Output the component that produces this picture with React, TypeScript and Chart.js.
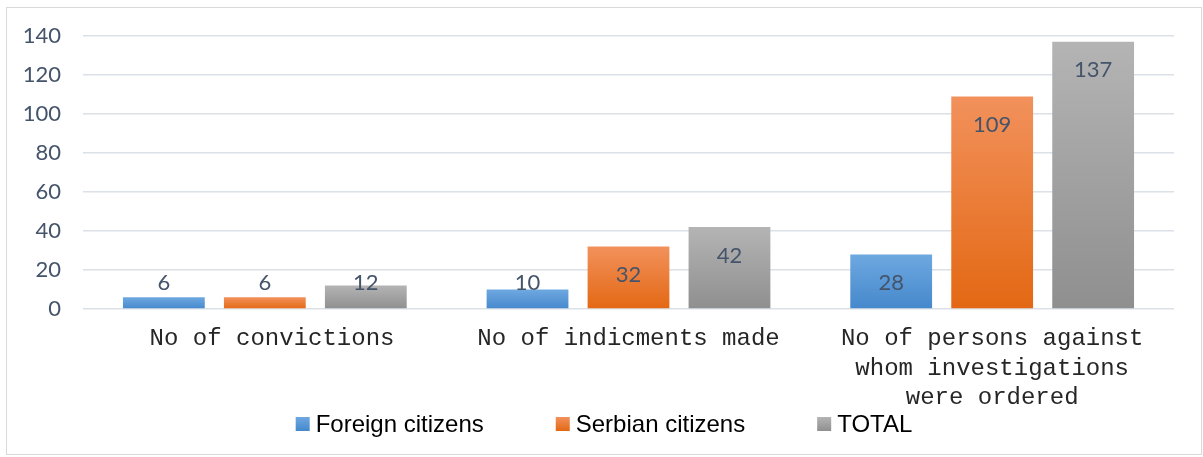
import React, { useEffect, useRef } from "react";
import { Chart, registerables } from "chart.js";

Chart.register(...registerables);

// ---- data ----
const categories: string[][] = [
  [" No of convictions"],
  ["No of indicments made"],
  ["No of persons against", "whom investigations", "were ordered"],
];
const seriesNames = ["Foreign citizens", "Serbian citizens", "TOTAL"];
const foreignCitizens = [6, 10, 28];
const serbianCitizens = [6, 32, 109];
const totalValues = [12, 42, 137];
const yMin = 0;
const yMax = 140;
const yStep = 20;

// ---- styles ----
const gradientStops: [string, string][] = [
  ["#6EA8E0", "#4588CC"],
  ["#F2915C", "#E36813"],
  ["#B4B4B4", "#8F8F8F"],
];
const labelColor = "#44546A";
const gridColor = "#DCE1E8";

function makeBg(idx: number) {
  return (ctx: any) => {
    const chart = ctx.chart;
    const area = chart.chartArea;
    const [c0, c1] = gradientStops[idx];
    if (!area || ctx.type !== "data") return c1;
    const ys = chart.scales.y;
    const top = ys.getPixelForValue(ctx.raw);
    const bot = ys.getPixelForValue(0);
    if (!isFinite(top) || !isFinite(bot) || top === bot) return c1;
    const g = chart.ctx.createLinearGradient(0, top, 0, bot);
    g.addColorStop(0, c0);
    g.addColorStop(1, c1);
    return g;
  };
}

const valueLabelPlugin = {
  id: "valueLabels",
  afterDatasetsDraw(chart: any) {
    const ctx = chart.ctx;
    ctx.save();
    ctx.font = "22px Lato";
    ctx.fillStyle = labelColor;
    ctx.textAlign = "center";
    ctx.textBaseline = "middle";
    chart.data.datasets.forEach((ds: any, di: number) => {
      const meta = chart.getDatasetMeta(di);
      meta.data.forEach((el: any, i: number) => {
        const y = Math.min(el.y + 28.5, el.base - 25);
        ctx.fillText(String(ds.data[i]), el.x, y);
      });
    });
    ctx.restore();
  },
};

const legendPlugin = {
  id: "customLegend",
  afterDraw(chart: any) {
    const ctx = chart.ctx;
    const box = 14;
    const textGap = 6;
    const itemGap = 72;
    ctx.save();
    ctx.font = "24px 'Liberation Sans'";
    const widths = seriesNames.map((n) => box + textGap + ctx.measureText(n).width);
    const total = widths.reduce((a, b) => a + b, 0) + itemGap * (widths.length - 1);
    let x = chart.width / 2 - total / 2;
    const cy = chart.height - 30;
    seriesNames.forEach((name, i) => {
      const [c0, c1] = gradientStops[i];
      const g = ctx.createLinearGradient(0, cy - box / 2, 0, cy + box / 2);
      g.addColorStop(0, c0);
      g.addColorStop(1, c1);
      ctx.fillStyle = g;
      ctx.fillRect(x, cy - box / 2, box, box);
      ctx.fillStyle = "#000000";
      ctx.textAlign = "left";
      ctx.textBaseline = "middle";
      ctx.fillText(name, x + box + textGap, cy + 1);
      x += widths[i] + itemGap;
    });
    ctx.restore();
  },
};

export default function App() {
  const canvasRef = useRef<HTMLCanvasElement | null>(null);

  useEffect(() => {
    document.body.style.margin = "0";
    const canvas = canvasRef.current;
    if (!canvas) return;
    const chart = new Chart(canvas, {
      type: "bar",
      data: {
        labels: categories,
        datasets: [
          { label: seriesNames[0], data: foreignCitizens, backgroundColor: makeBg(0) },
          { label: seriesNames[1], data: serbianCitizens, backgroundColor: makeBg(1) },
          { label: seriesNames[2], data: totalValues, backgroundColor: makeBg(2) },
        ],
      },
      options: {
        responsive: false,
        animation: false,
        devicePixelRatio: 1,
        layout: { padding: { left: 0, right: 27, top: 28, bottom: 0 } },
        datasets: {
          bar: { categoryPercentage: 0.833, barPercentage: 0.81 },
        },
        plugins: {
          legend: { display: false },
          tooltip: { enabled: false },
        },
        scales: {
          x: {
            grid: { display: false, drawTicks: false },
            border: { display: false },
            ticks: {
              autoSkip: false,
              maxRotation: 0,
              minRotation: 0,
              padding: 15,
              color: "#262626",
              font: { family: "'Liberation Mono'", size: 24, lineHeight: 29.5 / 24 },
            },
            afterFit(scale: any) {
              scale.height = 145;
            },
          },
          y: {
            min: yMin,
            max: yMax,
            grid: {
              color: gridColor,
              lineWidth: 1.5,
              drawTicks: true,
              tickLength: 22,
              tickColor: "rgba(0,0,0,0)",
            },
            border: { display: false },
            ticks: {
              stepSize: yStep,
              padding: 0,
              color: labelColor,
              font: { family: "Lato", size: 22 },
            },
            afterFit(scale: any) {
              scale.width = 76;
            },
          },
        },
      },
      plugins: [valueLabelPlugin, legendPlugin],
    });
    return () => chart.destroy();
  }, []);

  return (
    <div
      style={{
        position: "absolute",
        left: 6,
        top: 7,
        width: 1196,
        height: 448,
        border: "1px solid #D9D9D9",
        boxSizing: "border-box",
        background: "#ffffff",
      }}
    >
      <canvas ref={canvasRef} width={1194} height={446} style={{ display: "block", width: 1194, height: 446 }} />
    </div>
  );
}
